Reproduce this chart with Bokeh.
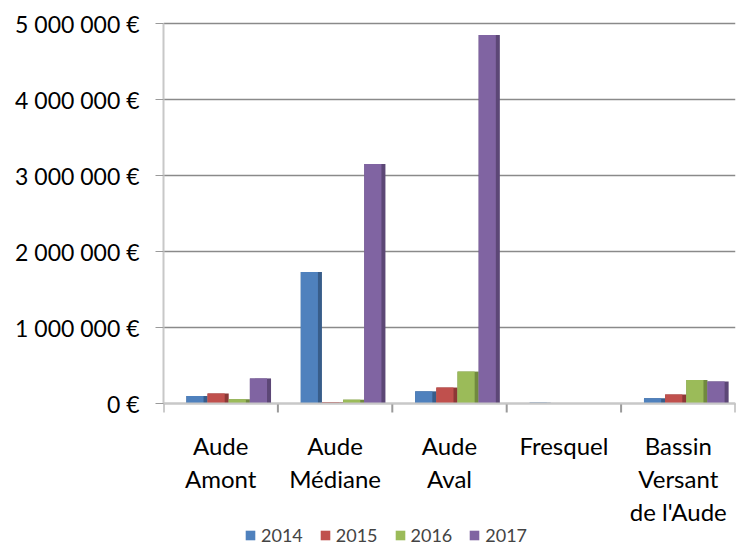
from bokeh.plotting import figure
from bokeh.models import FixedTicker, Legend, LegendItem, ColumnDataSource, Range1d
from bokeh.core.properties import value
from bokeh.embed import file_html
from bokeh.resources import INLINE

categories = ["Aude\nAmont", "Aude\nMédiane", "Aude\nAval", "Fresquel", "Bassin\nVersant\nde l'Aude"]
years = ["2014", "2015", "2016", "2017"]
v2014 = [100000, 1730000, 160000, 10000, 70000]
v2015 = [130000, 15000, 210000, 8000, 120000]
v2016 = [55000, 50000, 420000, 6000, 310000]
v2017 = [330000, 3150000, 4850000, 5000, 290000]
series = [v2014, v2015, v2016, v2017]
colors = ["#4F81BD", "#C0504D", "#9BBB59", "#8064A2"]
side_colors = ["#385D8A", "#8C3836", "#71893F", "#5C4776"]
y_ticks = [0, 1000000, 2000000, 3000000, 4000000, 5000000]
y_tick_labels = ["0 €", "1 000 000 €", "2 000 000 €", "3 000 000 €", "4 000 000 €", "5 000 000 €"]

FONT = "Lato"
n = len(categories)

W, H = 746, 546
TOP, LEFT, RIGHT = 13, 163, 11
# 5M sits 10 px below frame top, 0 sits 380 px below that
px_per_unit = 380 / 5000000
y_end = 5000000 + 10 / px_per_unit
y_start = -(H - TOP - 390) / px_per_unit

p = figure(width=W, height=H, output_backend="svg", toolbar_location=None,
           x_range=Range1d(0, n), y_range=Range1d(y_start, y_end),
           x_axis_location=None,
           min_border_left=LEFT, min_border_right=RIGHT, min_border_top=TOP, min_border_bottom=0)
p.outline_line_color = None
p.background_fill_color = "white"
p.border_fill_color = "white"

pitch = 0.185
front = 0.15
items = []
for k, (vals, c, sc) in enumerate(zip(series, colors, side_colors)):
    xs = [i + 0.2 + pitch / 2 + k * pitch for i in range(n)]
    xs_front = [x - (pitch - front) / 2 for x in xs]
    src = ColumnDataSource(dict(x=xs, xf=xs_front, top=vals))
    p.vbar(x="x", top="top", width=pitch, source=src, fill_color=sc, line_color=None)
    r = p.vbar(x="xf", top="top", width=front, source=src, fill_color=c, line_color=None)
    items.append(LegendItem(label=years[k], renderers=[r]))

# y axis
p.yaxis.ticker = FixedTicker(ticks=y_ticks)
p.yaxis.bounds = (y_ticks[0], y_ticks[-1])
p.yaxis.major_label_overrides = {t: l for t, l in zip(y_ticks, y_tick_labels)}
p.yaxis.major_label_text_font = FONT
p.yaxis.major_label_text_font_size = "23px"
p.yaxis.major_label_text_color = "black"
p.yaxis.major_label_standoff = 16
p.yaxis.axis_line_color = "#c8c8c8"
p.yaxis.axis_line_width = 2
p.yaxis.major_tick_line_color = "#9a9a9a"
p.yaxis.major_tick_out = 8
p.yaxis.major_tick_in = 0
p.yaxis.minor_tick_line_color = None

p.xgrid.grid_line_color = None
p.ygrid.ticker = FixedTicker(ticks=y_ticks)
p.ygrid.grid_line_color = "#8a8a8a"
p.ygrid.grid_line_width = 1.5

# category axis drawn inside the frame (below the zero line)
centers = [i + 0.5 for i in range(n)]
bounds = [float(i) for i in range(n + 1)]
tick_len = 9 / px_per_unit
p.segment(x0=bounds, y0=[0] * len(bounds), x1=bounds, y1=[-tick_len] * len(bounds),
          line_color="#9a9a9a", line_width=2)
p.segment(x0=[0], y0=[0], x1=[n], y1=[0], line_color="#c8c8c8", line_width=2)
p.text(x=centers, y=[0] * n, text=categories, y_offset=27,
       text_align="center", text_baseline="top", text_font=value(FONT),
       text_font_size="24px", text_color="black", text_line_height=1.15)

legend = Legend(items=items, orientation="horizontal", location=(81, 0),
                label_text_font=FONT, label_text_font_size="18px",
                glyph_width=12, glyph_height=12, spacing=16, padding=1, margin=0,
                label_standoff=5, label_height=18, border_line_color=None, background_fill_alpha=0)
p.add_layout(legend, "center")

open("out.html", "w").write(file_html(p, INLINE))
